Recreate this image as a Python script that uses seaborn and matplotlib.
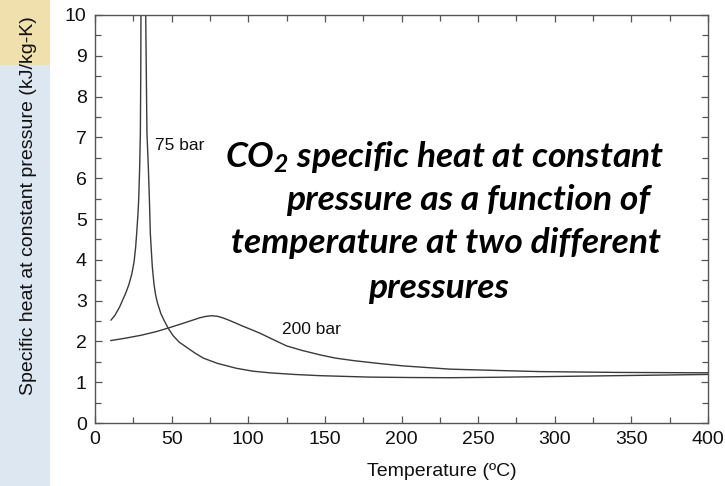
import matplotlib
matplotlib.use("Agg")
import matplotlib.pyplot as plt
import seaborn as sns
import pandas as pd
from matplotlib.patches import Rectangle
from matplotlib.ticker import MultipleLocator

# ---- data ----
t_75 = [10.4, 13, 16, 18, 20, 22, 24, 25.5, 26.5, 27.2, 28.0, 28.5, 29.1, 29.6, 29.85, 30.0,
        30.3, 31.6, 32.9, 33.1, 33.5, 33.9, 34.8, 35.5, 36.1, 36.8, 37.4, 38.5, 39.5, 40.7,
        43, 45, 47.8, 51, 55, 60, 65, 70.7, 80, 92.4, 103, 114, 130, 146.8, 179, 205, 231.6,
        260, 300, 350, 400]
cp_75 = [2.52, 2.64, 2.84, 3.01, 3.18, 3.38, 3.65, 3.95, 4.3, 4.65, 5.1, 5.47, 6.2, 7.1, 8.5, 10.0,
         12.0, 16.0, 12.0, 10.0, 8.5, 7.1, 6.28, 5.47, 4.65, 4.2, 3.83, 3.4, 3.15, 2.95,
         2.68, 2.52, 2.32, 2.14, 1.98, 1.85, 1.72, 1.59, 1.46, 1.34, 1.27, 1.23, 1.19,
         1.16, 1.125, 1.115, 1.11, 1.12, 1.14, 1.165, 1.19]
t_200 = [10.2, 20, 30, 40, 48, 58, 68.5, 72, 76, 80, 84, 88, 92.4, 96, 100, 107.7, 116, 125,
         135, 146.8, 157, 168.5, 185, 201, 231.6, 260, 290, 340, 400]
cp_200 = [2.02, 2.08, 2.15, 2.24, 2.33, 2.45, 2.58, 2.61, 2.63, 2.615, 2.57, 2.51, 2.44, 2.38,
          2.32, 2.20, 2.05, 1.89, 1.78, 1.67, 1.59, 1.53, 1.46, 1.40, 1.32, 1.29, 1.26, 1.24, 1.23]
x_ticks = [0, 50, 100, 150, 200, 250, 300, 350, 400]
y_ticks = [0, 1, 2, 3, 4, 5, 6, 7, 8, 9, 10]
labels = ["75 bar", "200 bar"]
label_pos = [(39.2, 6.79), (121.8, 2.30)]
title_lines = ["CO$_2$ specific heat at constant", "pressure as a function of",
               "temperature at two different", "pressures"]

sns.set_theme(style="white")
plt.rcParams["font.family"] = ["Liberation Sans", "DejaVu Sans"]
plt.rcParams["mathtext.fontset"] = "custom"
plt.rcParams["mathtext.rm"] = "Lato:bold:italic"
plt.rcParams["mathtext.it"] = "Lato:bold:italic"
plt.rcParams["mathtext.bf"] = "Lato:bold:italic"

fig = plt.figure(figsize=(7.25, 4.86), dpi=100)
fig.patch.set_facecolor("white")
# slide background stripe on the left (behind everything)
fig.patches.append(Rectangle((0, 1 - 65 / 486), 50 / 725, 65 / 486, transform=fig.transFigure,
                             facecolor="#EFE0AE", edgecolor="none", zorder=-10))
fig.patches.append(Rectangle((0, 0), 50 / 725, 1 - 65 / 486, transform=fig.transFigure,
                             facecolor="#DDE7F1", edgecolor="none", zorder=-10))

ax = fig.add_axes([95 / 725, 63 / 486, 613 / 725, 408 / 486])
ax.set_facecolor("white")

df75 = pd.DataFrame({"T": t_75, "cp": cp_75})
df200 = pd.DataFrame({"T": t_200, "cp": cp_200})
sns.lineplot(data=df75, x="T", y="cp", ax=ax, color="#3a3a3a", lw=1.0, sort=False, estimator=None)
sns.lineplot(data=df200, x="T", y="cp", ax=ax, color="#3a3a3a", lw=1.0, sort=False, estimator=None)

ax.set_xlim(0, 400)
ax.set_ylim(0, 10)
ax.set_xticks(x_ticks)
ax.set_yticks(y_ticks)
ax.xaxis.set_minor_locator(MultipleLocator(25))
ax.yaxis.set_minor_locator(MultipleLocator(0.5))
ax.tick_params(which="both", direction="in", top=True, right=True, bottom=True, left=True,
               color="#555555", width=0.9, labelsize=14, pad=6, labelcolor="#111111")
ax.tick_params(which="major", length=5)
ax.tick_params(which="minor", length=4)
for s in ax.spines.values():
    s.set_color("#555555")
    s.set_linewidth(1.0)
    s.set_visible(True)

ax.set_xlabel("Temperature (ºC)", fontsize=14, color="#111111")
ax.set_ylabel("Specific heat at constant pressure (kJ/kg-K)", fontsize=14, color="#111111")
ax.xaxis.set_label_coords(0.566, -0.098)
ax.yaxis.set_label_coords(-0.095, 0.534)

for lab, (tx, ty) in zip(labels, label_pos):
    ax.text(tx, ty, lab, fontsize=12.5, ha="left", va="center", color="#111111")

centers = [445, 468, 446, 438]
baselines = [167, 210, 253, 298]
for line, cx, by in zip(title_lines, centers, baselines):
    fig.text(cx / 725, 1 - by / 486, line, ha="center", va="baseline",
             fontsize=25.5, fontfamily="Lato", fontweight="bold", fontstyle="italic",
             color="black")

fig.savefig("out.png", dpi=100)
